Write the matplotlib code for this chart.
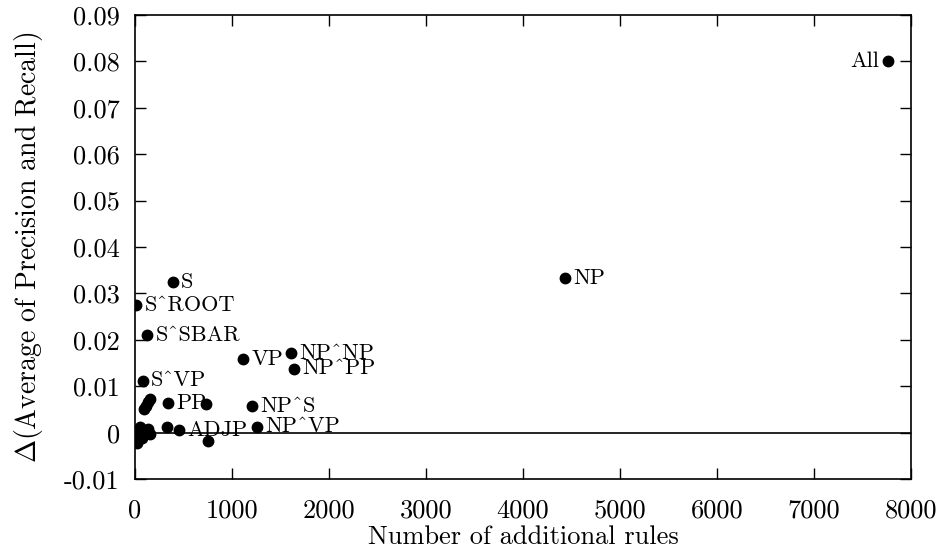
import matplotlib
matplotlib.use("Agg")
import matplotlib.pyplot as plt

plt.rcParams['font.family'] = ['cmr10', 'DejaVu Serif']
plt.rcParams['mathtext.fontset'] = 'cm'
plt.rcParams['axes.unicode_minus'] = False

# labelled points
label_names = ["All", "NP", "S", "S^ROOT", "S^SBAR", "VP", "NP^NP", "NP^PP",
               "S^VP", "PP", "NP^S", "NP^VP", "ADJP"]
label_x = [7760, 4433, 389, 10, 127, 1117, 1608, 1636, 79, 343, 1209, 1254, 455]
label_y = [0.0801, 0.0333, 0.0325, 0.0275, 0.0210, 0.0158, 0.0171, 0.0138,
           0.0112, 0.0063, 0.0057, 0.0013, 0.0005]

# unlabelled points
other_x = [732, 756, 327, 93, 113, 134, 155, 137, 52, 34, 18, 69, 155, 10]
other_y = [0.0061, -0.0018, 0.0013, 0.0051, 0.0058, 0.0066, 0.0072, 0.0009,
           0.0013, -0.0005, -0.0023, -0.0012, -0.0002, -0.0015]

xticks = [0, 1000, 2000, 3000, 4000, 5000, 6000, 7000, 8000]
yticks = [-0.01, 0, 0.01, 0.02, 0.03, 0.04, 0.05, 0.06, 0.07, 0.08, 0.09]
ytick_labels = ["-0.01", "0", "0.01", "0.02", "0.03", "0.04", "0.05", "0.06",
                "0.07", "0.08", "0.09"]

fig = plt.figure(figsize=(9.44, 5.52), dpi=100)
ax = fig.add_axes([0.143, 0.132, 0.822, 0.841])

ax.axhline(0, color='black', lw=1.2, zorder=1)
ax.plot(label_x, label_y, 'o', color='black', ms=7.5, zorder=3)
ax.plot(other_x, other_y, 'o', color='black', ms=7.5, zorder=3)

for n, x, y in zip(label_names, label_x, label_y):
    if n == "All":
        ax.annotate(n, (x, y), xytext=(-6, 0), textcoords='offset points',
                    ha='right', va='center', fontsize=16)
    else:
        ax.annotate(n, (x, y), xytext=(6, 0), textcoords='offset points',
                    ha='left', va='center', fontsize=16)

ax.set_xlim(0, 8000)
ax.set_ylim(-0.01, 0.09)
ax.set_xticks(xticks)
ax.set_xticklabels([str(t) for t in xticks])
ax.set_yticks(yticks)
ax.set_yticklabels(ytick_labels)
ax.tick_params(direction='in', length=8, width=1, top=True, right=True,
               labelsize=19)
ax.tick_params(axis='y', pad=11)
ax.tick_params(axis='x', pad=14)
for s in ax.spines.values():
    s.set_linewidth(1.2)

ax.set_xlabel("Number of additional rules", fontsize=19, labelpad=2)
ax.set_ylabel(r"$\Delta$(Average of Precision and Recall)", fontsize=20, labelpad=14)

fig.savefig("out.png", dpi=100)
